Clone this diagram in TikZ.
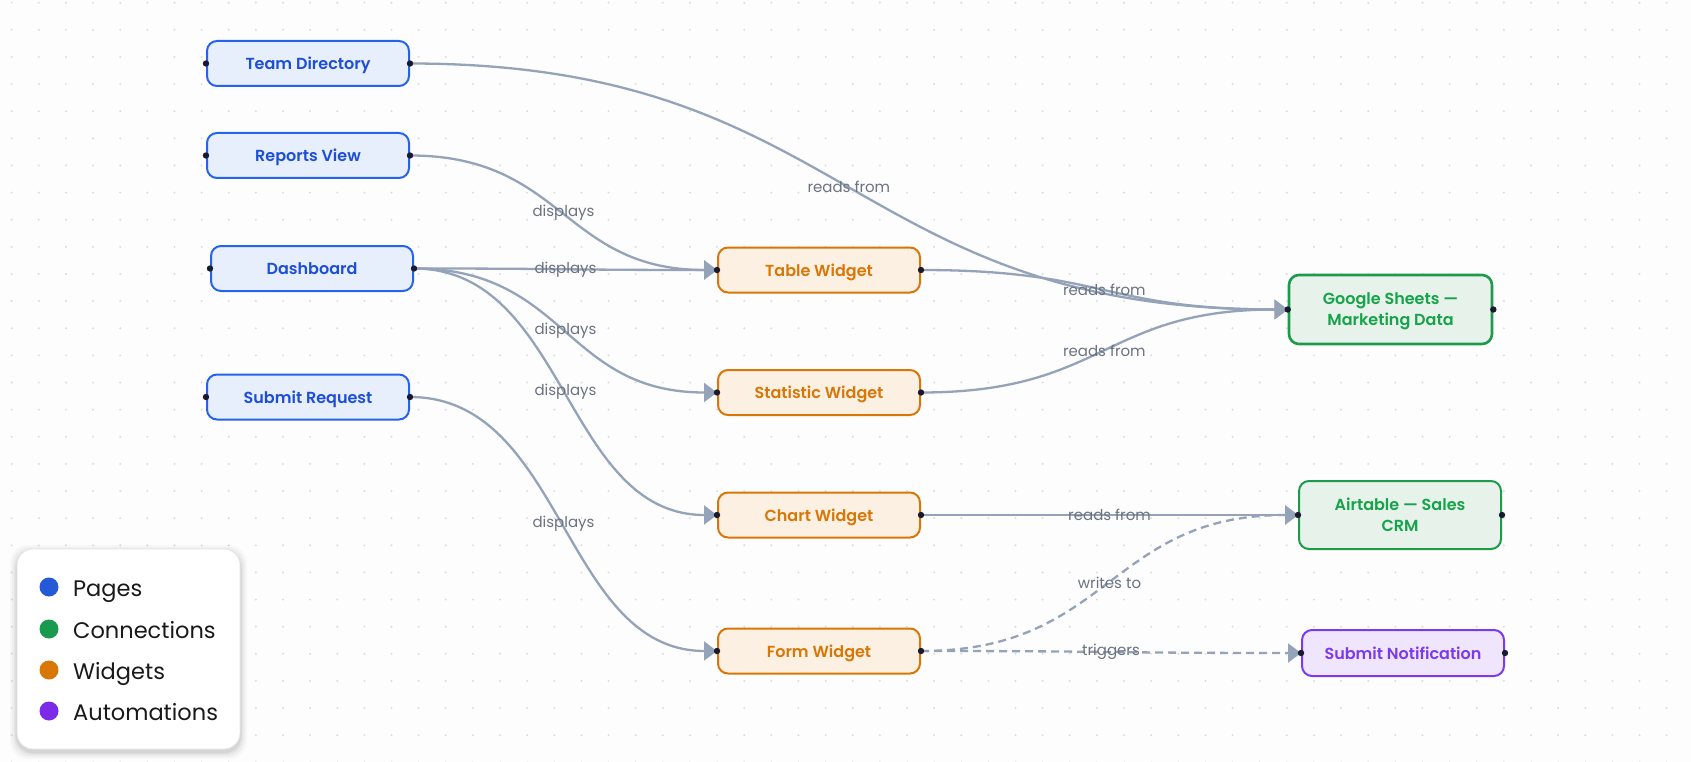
\documentclass[tikz,border=0pt]{standalone}
\usepackage{fontspec}
\setmainfont{Poppins}[BoldFont={Poppins SemiBold}]
\usetikzlibrary{arrows.meta}
\definecolor{bgc}{HTML}{FDFDFD}
\definecolor{gridc}{HTML}{DCDCDC}
\definecolor{edgec}{HTML}{94A3B8}
\definecolor{labc}{HTML}{6B7280}
\definecolor{portc}{HTML}{1A1A2E}
\definecolor{pgborder}{HTML}{2563EB}
\definecolor{pgtext}{HTML}{1D4ED8}
\definecolor{pgfill}{HTML}{E7EEFC}
\definecolor{wgborder}{HTML}{D97706}
\definecolor{wgtext}{HTML}{D97706}
\definecolor{wgfill}{HTML}{FCF0E3}
\definecolor{cnborder}{HTML}{1E9A4C}
\definecolor{cntext}{HTML}{16A34A}
\definecolor{cnfill}{HTML}{E7F2EB}
\definecolor{auborder}{HTML}{7C3AED}
\definecolor{autext}{HTML}{7C3AED}
\definecolor{aufill}{HTML}{EFE6FD}
\definecolor{lgblue}{HTML}{245AD6}
\definecolor{lggreen}{HTML}{1A9A4F}
\definecolor{lgorange}{HTML}{D97706}
\definecolor{lgpurple}{HTML}{7C2AE8}
\tikzset{
  box/.style={rounded corners=10pt, line width=2pt, minimum width=202pt, minimum height=45pt, inner sep=0pt, align=center, text depth=0pt, font=\fontsize{16}{21}\selectfont\bfseries},
  pagebox/.style={box, draw=pgborder, fill=pgfill, text=pgtext},
  widgetbox/.style={box, draw=wgborder, fill=wgfill, text=wgtext},
  connbox/.style={box, draw=cnborder, fill=cnfill, text=cntext},
  autobox/.style={box, draw=auborder, fill=aufill, text=autext},
  link/.style={draw=edgec, line width=2.3pt, -{Triangle[length=13pt,width=19pt]}},
  dlink/.style={link, dash pattern=on 8pt off 5pt},
  elabel/.style={text=labc, font=\fontsize{15}{17}\selectfont, inner sep=0pt},
  port/.style={fill=portc, draw=none},
  lgtext/.style={anchor=west, inner sep=0pt, text height=16pt, text depth=0pt, font=\fontsize{22.5}{26}\selectfont, text=black!90}
}
\begin{document}
\begin{tikzpicture}[x=1pt, y=-1pt]
\path[fill=bgc] (0,0) rectangle (1691,762);
\useasboundingbox (0,0) rectangle (1691,762);
\foreach \i in {0,...,62} {
  \foreach \j in {0,...,28} {
    \fill[gridc] (11.7+27.13*\i, 2.7+27.13*\j) circle (1.1pt);
  }
}
% nodes
\node[pagebox] (td) at (308,63.5) {Team Directory};
\node[pagebox] (rv) at (308,155.5) {Reports View};
\node[pagebox] (db) at (312,268.5) {Dashboard};
\node[pagebox] (sr) at (308,397) {Submit Request};
\node[widgetbox] (tw) at (819,270) {Table Widget};
\node[widgetbox] (sw) at (819,392.5) {Statistic Widget};
\node[widgetbox] (cw) at (819,515) {Chart Widget};
\node[widgetbox] (fw) at (819,651) {Form Widget};
\node[connbox, minimum width=203pt, minimum height=69pt, line width=2.6pt] (gs) at (1390.5,309.5) {Google Sheets —\\Marketing Data};
\node[connbox, minimum height=68pt] (at) at (1400,515) {Airtable — Sales\\CRM};
\node[autobox, minimum height=46pt] (sn) at (1403,653) {Submit Notification};
% edges
\draw[link] (td.east) .. controls +(440,0) and +(-440,0) .. node[elabel, pos=0.5] {reads from} (gs.west);
\draw[link] (rv.east) .. controls +(154,0) and +(-154,0) .. node[elabel, pos=0.5] {displays} (tw.west);
\draw[link] (db.east) .. controls +(153,0) and +(-153,0) .. node[elabel, pos=0.5] {displays} (tw.west);
\draw[link] (db.east) .. controls +(153,0) and +(-153,0) .. node[elabel, pos=0.5] {displays} (sw.west);
\draw[link] (db.east) .. controls +(153,0) and +(-153,0) .. node[elabel, pos=0.5] {displays} (cw.west);
\draw[link] (sr.east) .. controls +(154,0) and +(-154,0) .. node[elabel, pos=0.5] {displays} (fw.west);
\draw[link] (tw.east) .. controls +(185,0) and +(-185,0) .. node[elabel, pos=0.5] {reads from} (gs.west);
\draw[link] (sw.east) .. controls +(185,0) and +(-185,0) .. node[elabel, pos=0.5] {reads from} (gs.west);
\draw[link] (cw.east) .. controls +(190,0) and +(-190,0) .. node[elabel, pos=0.5] {reads from} (at.west);
\draw[dlink] (fw.east) .. controls +(190,0) and +(-190,0) .. node[elabel, pos=0.5] {writes to} (at.west);
\draw[dlink] (fw.east) .. controls +(191,0) and +(-191,0) .. node[elabel, pos=0.5] {triggers} (sn.west);
% ports
\foreach \n in {td,rv,db,sr,tw,sw,cw,fw,gs,at,sn} {
  \fill[port] (\n.west) circle (3.2pt);
  \fill[port] (\n.east) circle (3.2pt);
}
% legend
\foreach \k/\o in {7/0.025,5/0.035,3/0.045,1.5/0.06} {
  \fill[black, opacity=\o, rounded corners=18pt] (17-\k,549-\k+3) rectangle (240+\k,749+\k+3);
}
\node[draw=black!10, line width=0.8pt, fill=white, rounded corners=16pt, minimum width=223pt, minimum height=200pt, inner sep=0pt] (lg) at (128.5,649) {};
\fill[lgblue] (49,587) circle (9.5pt);
\fill[lggreen] (49,629) circle (9.5pt);
\fill[lgorange] (49,670) circle (9.5pt);
\fill[lgpurple] (49,711) circle (9.5pt);
\node[lgtext] (l1) at (73,588) {Pages};
\node[lgtext] (l2) at (73,630) {Connections};
\node[lgtext] (l3) at (73,671) {Widgets};
\node[lgtext] (l4) at (73,712) {Automations};
\end{tikzpicture}
\end{document}
